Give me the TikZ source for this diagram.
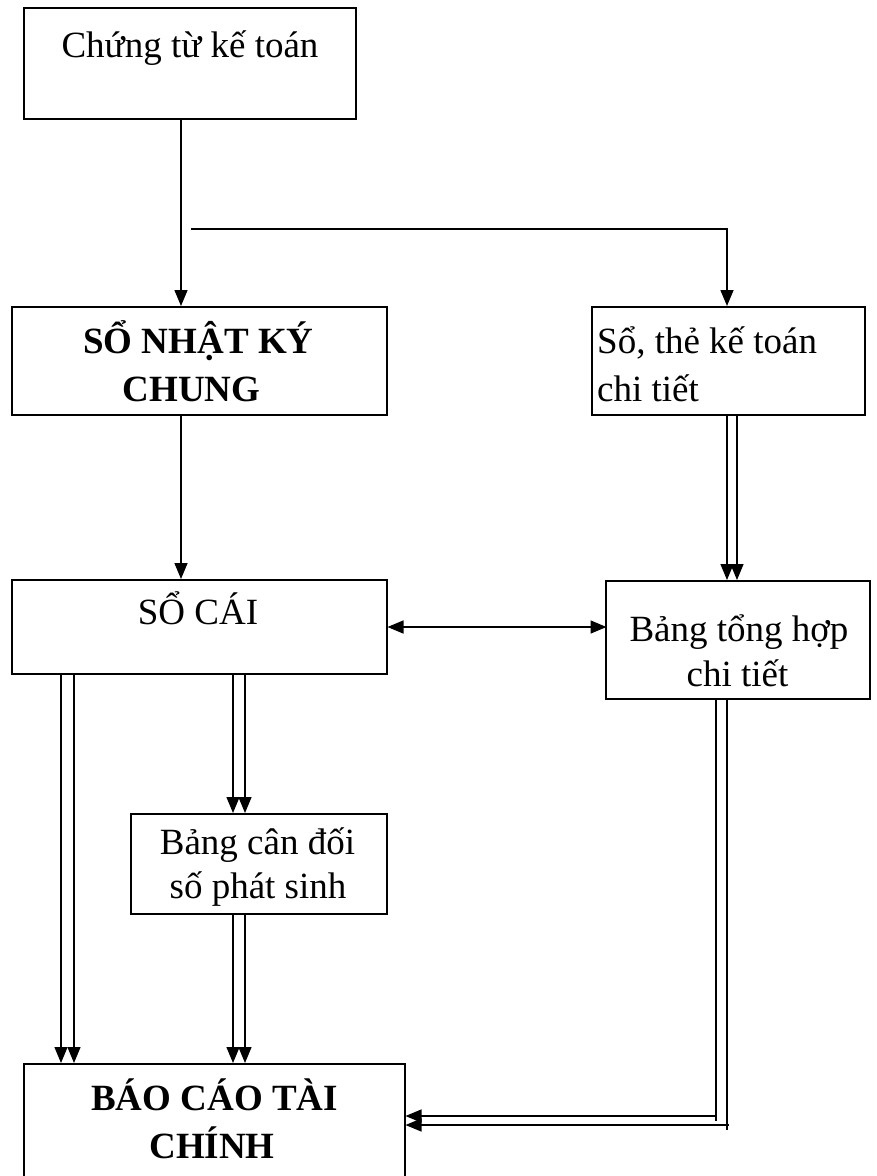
\documentclass[tikz,border=0pt]{standalone}
\usepackage{fontspec}
\setmainfont{Liberation Serif}
\usetikzlibrary{arrows.meta,calc}
\begin{document}
\begin{tikzpicture}[x=1pt,y=-1pt,
  box/.style={draw,line width=1.5pt,inner sep=0pt,anchor=north west},
  lbl/.style={inner sep=0pt,anchor=base,font=\fontsize{37}{47}\selectfont},
  lblb/.style={inner sep=0pt,anchor=base,font=\fontsize{37}{47}\selectfont\bfseries},
  tip/.style={Triangle[length=16pt,width=13pt]},
  conn/.style={line width=1.5pt},
  arr/.style={conn,-{Triangle[length=16pt,width=13pt]}},
  pair/.style={line width=1.3pt},
  dbl/.style={pair,-{Triangle[length=16pt,width=13pt]}},
]
\useasboundingbox (0,0) rectangle (876,1176);
\fill[white] (0,0) rectangle (876,1176);
\clip (0,0) rectangle (876,1176);

% boxes
\node[box,minimum width=332pt,minimum height=111pt] (ct)  at (23,7)    {};
\node[box,minimum width=375pt,minimum height=108pt] (snk) at (11,306)  {};
\node[box,minimum width=273pt,minimum height=108pt] (stk) at (591,306) {};
\node[box,minimum width=375pt,minimum height=94pt]  (sc)  at (11,579)  {};
\node[box,minimum width=264pt,minimum height=118pt] (bth) at (605,580) {};
\node[box,minimum width=256pt,minimum height=100pt] (bcd) at (130,813) {};
\node[box,minimum width=381pt,minimum height=140pt] (bc)  at (23,1063) {};

% labels
\node[lbl]  (ctt)  at (190,57)    {Chứng từ kế toán};
\node[lblb] (snk1) at (198.5,353) {SỔ NHẬT KÝ};
\node[lblb] (snk2) at (191.5,401) {CHUNG};
\node[lbl,anchor=base west] (stk1) at (597,353) {Sổ, thẻ kế toán};
\node[lbl,anchor=base west] (stk2) at (597,401) {chi tiết};
\node[lbl]  (sct)  at (198,624)   {SỔ CÁI};
\node[lbl]  (bth1) at (739,641)   {Bảng tổng hợp};
\node[lbl]  (bth2) at (737.5,686) {chi tiết};
\node[lbl]  (bcd1) at (257.5,854) {Bảng cân đối};
\node[lbl]  (bcd2) at (258,898)   {số phát sinh};
\node[lblb] (bc1)  at (214.5,1110) {BÁO CÁO TÀI};
\node[lblb] (bc2)  at (212,1158)  {CHÍNH};

% single connectors
\draw[arr] ($(ct.south west)+(158,0)$) -- ($(snk.north west)+(170,0)$);
\coordinate (br) at (191,229);
\draw[arr] (br) -| ($(stk.north west)+(136,0)$);
\draw[arr] ($(snk.south west)+(170,0)$) -- ($(sc.north west)+(170,0)$);
\draw[conn,{Triangle[length=16pt,width=13pt]}-{Triangle[length=16pt,width=13pt]}]
  ($(sc.north east)+(0,48)$) -- ($(sc.north east)+(219,48)$);

% paired connectors
\draw[dbl] ($(stk.south west)+(136,0)$) -- ($(bth.north west)+(122,0)$);
\draw[dbl] ($(stk.south west)+(146,0)$) -- ($(bth.north west)+(132,0)$);
\draw[dbl] ($(sc.south west)+(50,0)$)   -- ($(bc.north west)+(38,0)$);
\draw[dbl] ($(sc.south west)+(63,0)$)   -- ($(bc.north west)+(51,0)$);
\draw[dbl] ($(sc.south west)+(222,0)$)  -- ($(bcd.north west)+(103,0)$);
\draw[dbl] ($(sc.south west)+(234,0)$)  -- ($(bcd.north west)+(115,0)$);
\draw[dbl] ($(bcd.south west)+(103,0)$) -- ($(bc.north west)+(210,0)$);
\draw[dbl] ($(bcd.south west)+(115,0)$) -- ($(bc.north west)+(222,0)$);

% return path from the detail summary to the report
\draw[pair] ($(bth.south west)+(111,0)$) -- ++(0,421);
\draw[dbl]  ($(bc.north east)+(309,53)$) -- ($(bc.north east)+(0,53)$);
\draw[pair] ($(bth.south west)+(122,0)$) -- ++(0,430);
\draw[dbl]  ($(bc.north east)+(323,62)$) -- ($(bc.north east)+(0,62)$);
\end{tikzpicture}
\end{document}
